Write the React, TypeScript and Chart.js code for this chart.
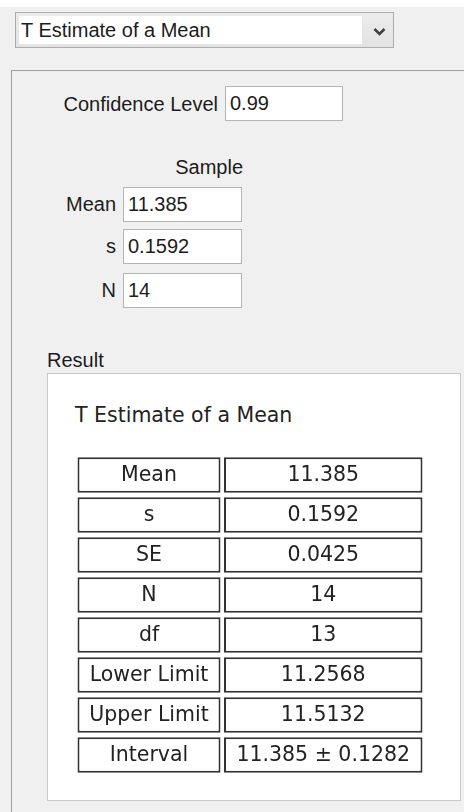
import React, { useEffect, useRef } from "react";
import { Chart, registerables } from "chart.js";

Chart.register(...registerables);

// ---- data ----
const methodName = "T Estimate of a Mean";
const confidenceLevel = "0.99";
const sampleMean = "11.385";
const sampleS = "0.1592";
const sampleN = "14";
const rowLabels = ["Mean", "s", "SE", "N", "df", "Lower Limit", "Upper Limit", "Interval"];
const rowValues = ["11.385", "0.1592", "0.0425", "14", "13", "11.2568", "11.5132", "11.385 ± 0.1282"];

const FORM_FONT = "'Liberation Sans', Arial, sans-serif";
const TABLE_FONT = "'DejaVu Sans', Verdana, sans-serif";

const abs = (left: number, top: number, extra: React.CSSProperties = {}): React.CSSProperties => ({
  position: "absolute",
  left,
  top,
  ...extra,
});

function Field({ left, top, width, value }: { left: number; top: number; width: number; value: string }) {
  return (
    <div
      style={abs(left, top, {
        width,
        height: 35,
        background: "#ffffff",
        border: "1px solid #b4b4b4",
        fontFamily: FORM_FONT,
        fontSize: 20,
        lineHeight: "33px",
        paddingLeft: 4,
        boxSizing: "border-box",
        color: "#1c1c1c",
      })}
    >
      {value}
    </div>
  );
}

function Label({ right, centerY, text }: { right: number; centerY: number; text: string }) {
  return (
    <div
      style={abs(0, centerY - 12, {
        width: right,
        textAlign: "right",
        fontFamily: FORM_FONT,
        fontSize: 20,
        lineHeight: "24px",
        color: "#1c1c1c",
        whiteSpace: "nowrap",
      })}
    >
      {text}
    </div>
  );
}

function ResultTable() {
  const ref = useRef<HTMLCanvasElement | null>(null);
  useEffect(() => {
    if (!ref.current) return;
    const texts = [rowLabels, rowValues];
    const cellText = {
      id: "cellText",
      afterDatasetsDraw(chart: any) {
        const ctx = chart.ctx;
        ctx.save();
        ctx.font = `20.5px ${TABLE_FONT}`;
        ctx.fillStyle = "#222222";
        ctx.textAlign = "center";
        ctx.textBaseline = "middle";
        chart.data.datasets.forEach((_: any, di: number) => {
          const meta = chart.getDatasetMeta(di);
          meta.data.forEach((bar: any, j: number) => {
            const p = bar.getProps(["x", "base", "y"], true);
            ctx.fillText(texts[di][j], (p.x + p.base) / 2, p.y + 1);
          });
        });
        ctx.restore();
      },
    };
    const chart = new Chart(ref.current, {
      type: "bar",
      data: {
        labels: rowLabels,
        datasets: [
          {
            label: "Statistic",
            data: rowLabels.map(() => [0.5, 143.5]) as any,
            backgroundColor: "#ffffff",
            borderColor: "#333333",
            borderWidth: 2,
            borderSkipped: false,
            grouped: false,
            barPercentage: 0.89,
            categoryPercentage: 1,
          } as any,
          {
            label: "Value",
            data: rowValues.map(() => [147, 345.5]) as any,
            backgroundColor: "#ffffff",
            borderColor: "#333333",
            borderWidth: 2,
            borderSkipped: false,
            grouped: false,
            barPercentage: 0.89,
            categoryPercentage: 1,
          } as any,
        ],
      },
      options: {
        indexAxis: "y",
        animation: false,
        responsive: false,
        maintainAspectRatio: false,
        layout: { padding: 0 },
        plugins: { legend: { display: false }, tooltip: { enabled: false } },
        scales: {
          x: { type: "linear", min: 0, max: 346, display: false },
          y: { type: "category", display: false },
        },
      },
      plugins: [cellText],
    });
    return () => chart.destroy();
  }, []);
  return <canvas ref={ref} width={346} height={320} style={abs(77, 455, { width: 346, height: 320 })} />;
}

export default function App() {
  return (
    <div
      style={{
        position: "fixed",
        left: 0,
        top: 0,
        width: 464,
        height: 812,
        overflow: "hidden",
        background: "#ffffff",
      }}
    >
      <div style={abs(0, 7, { width: 464, height: 805, background: "#f0f0f0" })} />

      {/* dropdown */}
      <div
        style={abs(15, 12, {
          width: 379,
          height: 36,
          border: "1px solid #acacac",
          boxSizing: "border-box",
          background: "linear-gradient(#ececec, #e3e3e3)",
        })}
      />
      <div
        style={abs(19, 16, {
          width: 343,
          height: 28,
          background: "#ffffff",
          fontFamily: FORM_FONT,
          fontSize: 20,
          lineHeight: "28px",
          color: "#1c1c1c",
          paddingLeft: 2,
          boxSizing: "border-box",
          whiteSpace: "nowrap",
        })}
      >
        {methodName}
      </div>
      <svg style={abs(373, 27)} width={13} height={10}>
        <polyline points="1.5,2 6.5,7 11.5,2" fill="none" stroke="#404040" strokeWidth={2.6} />
      </svg>

      {/* panel */}
      <div style={abs(12, 70, { width: 452, height: 1, background: "#a0a0a0" })} />
      <div style={abs(11, 70, { width: 1, height: 742, background: "#a0a0a0" })} />

      <Label right={218} centerY={104} text="Confidence Level" />
      <Field left={225} top={86} width={118} value={confidenceLevel} />

      <Label right={243} centerY={167} text="Sample" />
      <Label right={116} centerY={204} text="Mean" />
      <Field left={123} top={187} width={119} value={sampleMean} />
      <Label right={116} centerY={246} text="s" />
      <Field left={123} top={229} width={119} value={sampleS} />
      <Label right={116} centerY={290} text="N" />
      <Field left={123} top={273} width={119} value={sampleN} />

      <div
        style={abs(47, 348, {
          fontFamily: FORM_FONT,
          fontSize: 20,
          lineHeight: "24px",
          color: "#1c1c1c",
        })}
      >
        Result
      </div>
      <div
        style={abs(47, 373, {
          width: 414,
          height: 428,
          boxSizing: "border-box",
          background: "#ffffff",
          border: "1px solid #c8c8c8",
        })}
      />
      <div
        style={abs(75, 402, {
          fontFamily: TABLE_FONT,
          fontSize: 20.5,
          lineHeight: "26px",
          color: "#222222",
          whiteSpace: "nowrap",
        })}
      >
        {methodName}
      </div>
      <ResultTable />
    </div>
  );
}
